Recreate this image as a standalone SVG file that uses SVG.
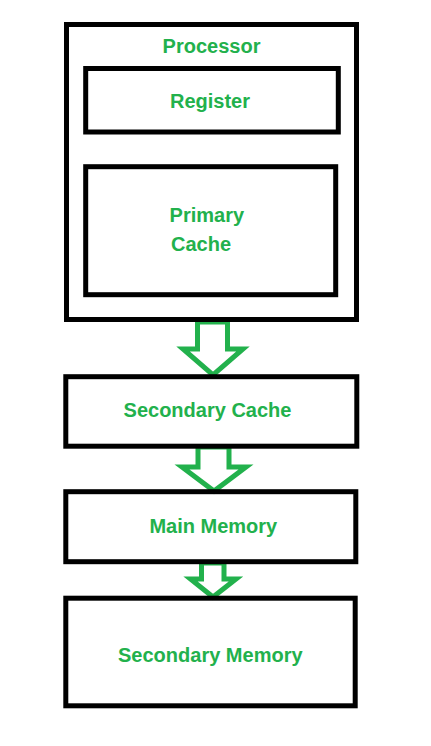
<svg xmlns="http://www.w3.org/2000/svg" width="431" height="746" viewBox="0 0 431 746">
<style>
.box{fill:none;stroke:#000;stroke-width:5}
.lbl{font-family:"Liberation Sans",Arial,sans-serif;font-weight:bold;font-size:20px;fill:#22b14c;text-anchor:middle}
.arr{fill:#fff;stroke:#22b14c;stroke-width:5;stroke-linejoin:miter}
</style>
<rect width="431" height="746" fill="#fff"/>
<g id="connectors">
<polygon class="arr" points="197.5,322 227.5,322 227.5,349 243,349 213,375 183,349 197.5,349"/>
<polygon class="arr" points="198,447 229,447 229,467 246,467 214,491 182,467 198,467"/>
<polygon class="arr" points="201.5,563 224,563 224,579 236,579 213,597 190.5,579 201.5,579"/>
</g>
<g id="processor">
<rect class="box" x="66.5" y="24.5" width="290" height="295"/>
<text class="lbl" x="211.5" y="52.7">Processor</text>
</g>
<g id="register">
<rect class="box" x="85.7" y="68.5" width="252.6" height="63.5"/>
<text class="lbl" x="210" y="107.5">Register</text>
</g>
<g id="primary-cache">
<rect class="box" x="85.7" y="166.7" width="250" height="128"/>
<text class="lbl" x="206.8" y="222">Primary</text>
<text class="lbl" x="201" y="250.5">Cache</text>
</g>
<g id="secondary-cache">
<rect class="box" x="65.8" y="376.7" width="291" height="69.5"/>
<text class="lbl" x="207.5" y="417.3">Secondary Cache</text>
</g>
<g id="main-memory">
<rect class="box" x="65.8" y="491.7" width="290" height="70"/>
<text class="lbl" x="213.3" y="532.7">Main Memory</text>
</g>
<g id="secondary-memory">
<rect class="box" x="65.8" y="598.2" width="289.4" height="107.6"/>
<text class="lbl" x="210.3" y="661.7">Secondary Memory</text>
</g>
</svg>
